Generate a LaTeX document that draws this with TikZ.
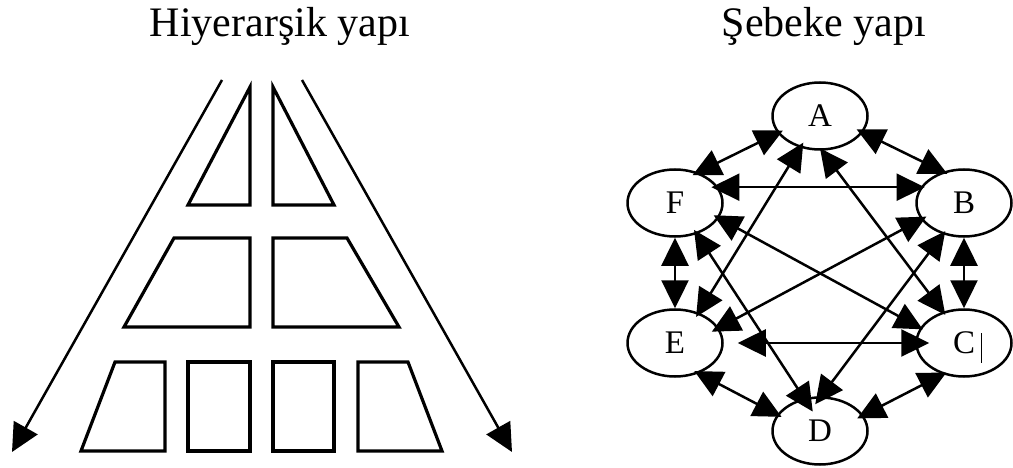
\documentclass[tikz,border=0pt]{standalone}
\usepackage{fontspec}
\setmainfont{Liberation Serif}
\usetikzlibrary{arrows.meta,shapes.geometric}
\begin{document}
\begin{tikzpicture}[x=1pt,y=-1pt,
  >={Triangle[length=28pt,width=27pt]},
  box/.style={draw,line width=3.2pt,line join=miter},
  bigarrow/.style={line width=2.5pt,->},
  net/.style={ellipse,draw,line width=2.5pt,minimum width=95pt,minimum height=67pt,inner sep=0pt,font=\fontsize{33}{36}\selectfont},
  link/.style={line width=2.5pt,<->},
  reachout/.style 2 args={shorten <=-#1pt, shorten >=-#2pt},
  title/.style={anchor=base,inner sep=0pt,font=\fontsize{42}{48}\selectfont}]
\useasboundingbox (0,0) rectangle (1013,468);

% titles
\node[title] (t1) at (280,37) {Hiyerarşik yapı};
\node[title] (t2) at (824,37) {Şebeke yapı};

% hierarchy
\draw[box] (250,87) -- (188,205) -- (250,205) -- cycle;
\draw[box] (273,87) -- (273,205) -- (334,205) -- cycle;
\draw[box] (174,238) -- (250,238) -- (250,327) -- (124,327) -- cycle;
\draw[box] (273,238) -- (347,238) -- (399,327) -- (273,327) -- cycle;
\draw[box] (115,362) -- (165,362) -- (165,451) -- (81,451) -- cycle;
\draw[box] (188,362) rectangle (250,451);
\draw[box] (273,362) rectangle (334,451);
\draw[box] (358,362) -- (408,362) -- (442,451) -- (358,451) -- cycle;

\coordinate (la0) at (222,80);
\coordinate (la1) at (12,452);
\coordinate (ra0) at (302,80);
\coordinate (ra1) at (512,452);
\draw[bigarrow] (la0) -- (la1);
\draw[bigarrow] (ra0) -- (ra1);

% network
\node[net] (A) at (820,116) {A};
\node[net] (B) at (964,203) {B};
\node[net] (C) at (964,343) {C};
\node[net] (D) at (820,431) {D};
\node[net] (E) at (675,343) {E};
\node[net] (F) at (675,203) {F};
\draw[line width=0.9pt] (981,333) -- (981,363);

\draw[link,reachout={6}{6}] (F.53) -- (A.202);
\draw[link,reachout={7}{5}] (A.339) -- (B.124);
\draw[link,reachout={7}{4}] (F.20) -- (B.160);
\draw[link] (F.south) -- (E.north);
\draw[link] (B.south) -- (C.north);
\draw[link,reachout={5}{5}] (E.308) -- (D.159);
\draw[link,reachout={7}{4}] (D.20) -- (C.236);
\draw[link,shorten <=14pt,shorten >=-14pt] (E.east) -- (C.west);
\draw[link,reachout={6}{5}] (A.238) -- (E.52);
\draw[link,reachout={3}{4}] (A.273) -- (C.124);
\draw[link,reachout={6}{3}] (F.341) -- (C.161);
\draw[link,reachout={6}{8}] (B.201) -- (E.19);
\draw[link,reachout={5}{16}] (F.305) -- (D.116);
\draw[link,reachout={4}{10}] (B.236) -- (D.88);
\end{tikzpicture}
\end{document}
